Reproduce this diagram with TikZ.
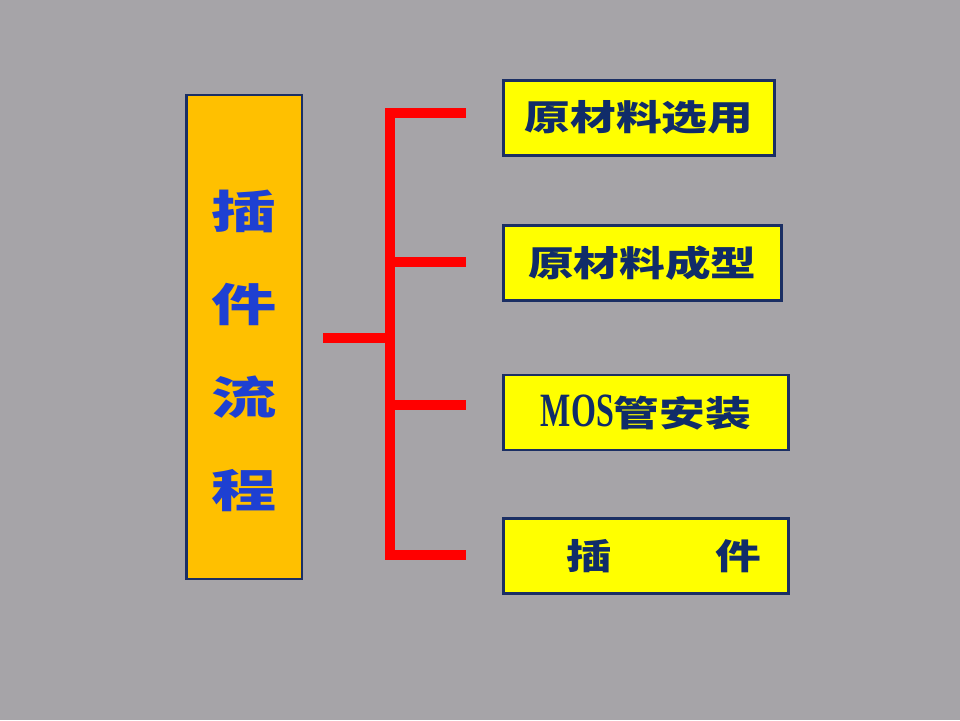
\documentclass[tikz,border=0pt]{standalone}
\usepackage{fontspec}
\setmainfont{Liberation Serif}
\usepackage{xcolor}
\usepackage{tikz}

\newfontfamily\titlefont[FakeStretch=1.45]{Noto Sans CJK SC}
\newfontfamily\stepfont[FakeStretch=1.3]{Noto Sans CJK SC}
\newfontfamily\mosfont[FakeStretch=0.67]{Liberation Serif}

\definecolor{slidebg}{RGB}{166,164,168}
\definecolor{titlefill}{RGB}{255,192,0}
\definecolor{boxfill}{RGB}{255,255,0}
\definecolor{frameblue}{RGB}{27,47,100}
\definecolor{titleink}{RGB}{30,64,210}
\definecolor{boxink}{RGB}{16,44,105}
\definecolor{bracketred}{RGB}{255,0,0}

\begin{document}
\begin{tikzpicture}[
    titlebox/.style={
        draw=frameblue,
        fill=titlefill,
        line width=2pt,
        rectangle,
        align=center,
        minimum width=2.875cm,
        minimum height=12.1cm,
        text=titleink,
        font=\titlefont\bfseries\fontsize{32}{66}\selectfont
    },
    stepbox/.style={
        draw=frameblue,
        fill=boxfill,
        line width=2pt,
        rectangle,
        anchor=west,
        minimum height=1.875cm,
        text=boxink,
        font=\stepfont\bfseries\fontsize{25}{28}\selectfont
    },
    bracket/.style={bracketred, line width=7pt, line join=miter}
]

% Background
\fill[slidebg] (0,0) rectangle (24,18);

% Title box
\node[titlebox] (title) at (6.11,9.575) {\rule{0pt}{47pt}插\\件\\流\\程};

% Step boxes
\node[stepbox, minimum width=6.775cm] (select) at (12.55,15.06) {原材料选用};
\node[stepbox, minimum width=6.95cm] (form) at (12.55,11.425) {原材料成型};
\node[stepbox, minimum width=7.125cm] (mos) at (12.55,7.6875) {{\mosfont\fontsize{34}{36}\selectfont MOS}管安装};
\node[stepbox, minimum width=7.125cm] (insert) at (12.55,4.1) {\hspace{0.9cm}插\hspace{2.6cm}件};

% Bracket coordinates
\coordinate (stub) at (8.075,9.55);
\coordinate (hub) at (9.75,9.55);
\coordinate (b1) at (11.65,15.175);
\coordinate (b2) at (11.65,11.45);
\coordinate (b3) at (11.65,7.875);
\coordinate (b4) at (11.65,4.125);

% Red bracket
\draw[bracket] (b1) -| (hub) |- (b4);
\draw[bracket] (stub) -- (hub);
\draw[bracket] (hub |- b2) -- (b2);
\draw[bracket] (hub |- b3) -- (b3);

\end{tikzpicture}
\end{document}
